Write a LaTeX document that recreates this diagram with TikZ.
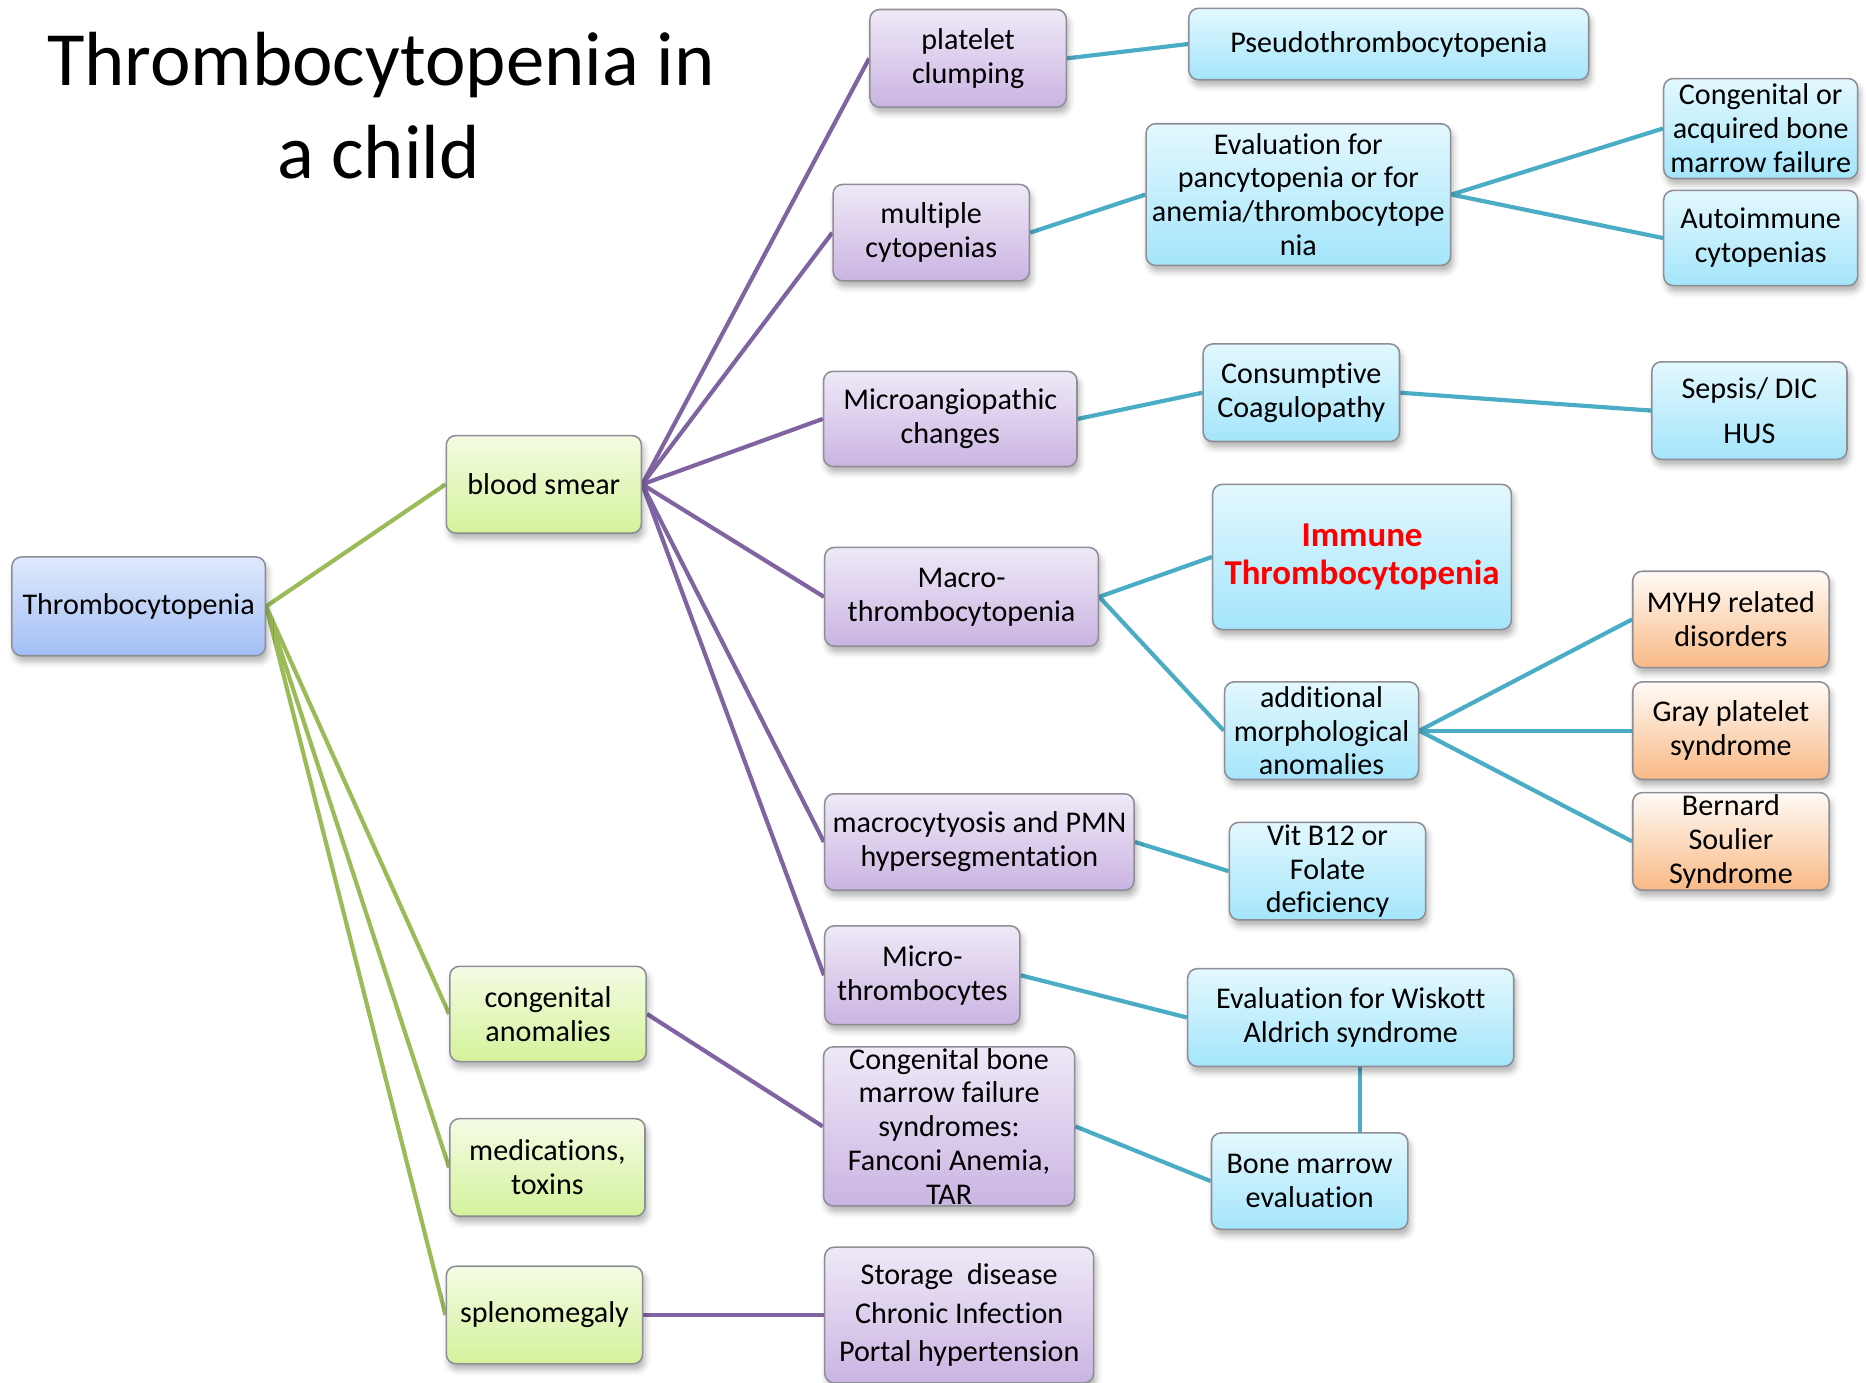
\documentclass[tikz,border=0pt]{standalone}
\usepackage{fontspec}
\setmainfont[Ligatures=NoCommon]{Carlito}
\usetikzlibrary{shadows.blur,backgrounds}

\definecolor{gline}{HTML}{9BBB59}
\definecolor{pline}{HTML}{8064A2}
\definecolor{cline}{HTML}{4BACC6}
\definecolor{frame}{HTML}{8E8E96}
\definecolor{blueT}{HTML}{DFE9FC}
\definecolor{blueB}{HTML}{A2BFF5}
\definecolor{greenT}{HTML}{F4FCE4}
\definecolor{greenB}{HTML}{D4F29B}
\definecolor{purpT}{HTML}{EFE9F7}
\definecolor{purpB}{HTML}{CAB4E2}
\definecolor{cyanT}{HTML}{E3F8FE}
\definecolor{cyanB}{HTML}{A4E5FB}
\definecolor{oranT}{HTML}{FFFBF7}
\definecolor{oranB}{HTML}{F8B985}
\definecolor{hilite}{HTML}{FF0000}

\newcommand{\bxfont}{\fontsize{25.3}{28.5}\selectfont}

\tikzset{
  box/.style={rounded corners=8pt, draw=frame, line width=1.3pt, inner sep=1pt,
    align=center, font=\bxfont,
    blur shadow={shadow xshift=2pt, shadow yshift=-5pt, shadow blur radius=5pt, shadow opacity=30}},
  sz/.style 2 args={minimum width=#1pt, minimum height=#2pt},
  bluebox/.style={box, top color=blueT, bottom color=blueB},
  greenbox/.style={box, top color=greenT, bottom color=greenB},
  purplebox/.style={box, top color=purpT, bottom color=purpB},
  cyanbox/.style={box, top color=cyanT, bottom color=cyanB},
  orangebox/.style={box, top color=oranT, bottom color=oranB},
  gedge/.style={draw=gline, line width=3.5pt},
  pedge/.style={draw=pline, line width=3.5pt},
  cedge/.style={draw=cline, line width=3.5pt},
}

\begin{document}
\begin{tikzpicture}[x=1pt, y=-1pt]
\useasboundingbox (0,0) rectangle (1568,1162);

% title
\node[anchor=base, font=\fontsize{64.5}{78}\selectfont, inner sep=0] (title1) at (320,72) {Thrombocytopenia in};
\node[anchor=base, font=\fontsize{64.5}{78}\selectfont, inner sep=0] (title2) at (318,150) {a child};

% root and first level
\node[bluebox, sz={213}{83}] (root) at (116.5,509.5) {Thrombocytopenia};
\node[greenbox, sz={164}{82}] (smear) at (457,407) {blood smear};
\node[greenbox, sz={165}{80}] (conanom) at (460.5,852) {congenital\\anomalies};
\node[greenbox, sz={164}{82}] (meds) at (460,981) {medications,\\toxins};
\node[greenbox, sz={165}{82}] (spleno) at (457.5,1105) {splenomegaly};

% second level
\node[purplebox, sz={165}{82}] (clump) at (813.5,49) {platelet\\clumping};
\node[purplebox, sz={165}{81}] (multcyto) at (782.5,195.5) {multiple\\cytopenias};
\node[purplebox, sz={213}{80}] (microang) at (798.5,352) {Microangiopathic\\changes};
\node[purplebox, sz={230}{83}] (macro) at (808,501.5) {Macro-\\thrombocytopenia};
\node[purplebox, sz={260}{81}] (macrocyt) at (823,707.5) {macrocytyosis and PMN\\hypersegmentation};
\node[purplebox, sz={164}{83}] (microthr) at (775,819.5) {Micro-\\thrombocytes};
\node[purplebox, sz={211}{127}] (cbmf) at (797.5,946.5) {Congenital bone\\marrow failure\\syndromes:\\Fanconi Anemia,\\TAR};
\node[purplebox, sz={226}{114}] (storage) at (806,1105) {Storage\ \ disease\\[4pt]Chronic Infection\\[4pt]Portal hypertension};

% third level
\node[cyanbox, sz={336}{60}] (pseudo) at (1167,37) {Pseudothrombocytopenia};
\node[cyanbox, sz={256}{119}] (evalpan) at (1091,163.5) {Evaluation for\\pancytopenia or for\\anemia/thrombocytope\\nia};
\node[cyanbox, sz={163}{84}] (congacq) at (1479.5,108) {Congenital or\\acquired bone\\marrow failure};
\node[cyanbox, sz={163}{80}] (autoimm) at (1479.5,200) {Autoimmune\\cytopenias};
\node[cyanbox, sz={165}{82}] (consump) at (1093.5,330) {Consumptive\\Coagulopathy};
\node[cyanbox, sz={164}{82}] (sepsis) at (1470,345) {Sepsis/ DIC\\[10pt]HUS};
\node[cyanbox, sz={251}{122}, font=\fontsize{29.3}{32}\selectfont\bfseries, text=hilite] (immune) at (1144.5,468) {Immune\\Thrombocytopenia};
\node[cyanbox, sz={163}{82}] (addmorph) at (1110.5,614) {additional\\morphological\\anomalies};
\node[orangebox, sz={165}{81}] (myh9) at (1454.5,520.5) {MYH9 related\\disorders};
\node[orangebox, sz={165}{82}] (gray) at (1454.5,614) {Gray platelet\\syndrome};
\node[orangebox, sz={165}{82}] (bernard) at (1454.5,707) {Bernard\\Soulier\\Syndrome};
\node[cyanbox, sz={165}{82}] (vitb12) at (1115.5,732) {Vit B12 or\\Folate\\deficiency};
\node[cyanbox, sz={274}{82}] (wiskott) at (1135,855) {Evaluation for Wiskott\\Aldrich syndrome};
\node[cyanbox, sz={165}{81}] (bmeval) at (1100.5,992.5) {Bone marrow\\evaluation};

\begin{scope}[on background layer]
  % from the root
  \foreach \t in {smear,conanom,meds,spleno}
    \draw[gedge] (root.east) -- (\t.west);
  % from the blood smear
  \foreach \t in {clump,multcyto,microang,macro,macrocyt,microthr}
    \draw[pedge] (smear.east) -- (\t.west);
  \draw[pedge] (conanom.east) -- (cbmf.west);
  \draw[pedge] (spleno.east) -- (storage.west);
  % third level links
  \draw[cedge] (clump.east) -- (pseudo.west);
  \draw[cedge] (multcyto.east) -- (evalpan.west);
  \draw[cedge] (evalpan.east) -- (congacq.west);
  \draw[cedge] (evalpan.east) -- (autoimm.west);
  \draw[cedge] (microang.east) -- (consump.west);
  \draw[cedge] (consump.east) -- (sepsis.west);
  \draw[cedge] (macro.east) -- (immune.west);
  \draw[cedge] (macro.east) -- (addmorph.west);
  \foreach \t in {myh9,gray,bernard}
    \draw[cedge] (addmorph.east) -- (\t.west);
  \draw[cedge] (macrocyt.east) -- (vitb12.west);
  \draw[cedge] (microthr.east) -- (wiskott.west);
  \draw[cedge] (cbmf.east) -- (bmeval.west);
  \draw[cedge] ([xshift=8pt]wiskott.south) -- ([xshift=8pt]wiskott.south |- bmeval.north);
\end{scope}
\end{tikzpicture}
\end{document}
